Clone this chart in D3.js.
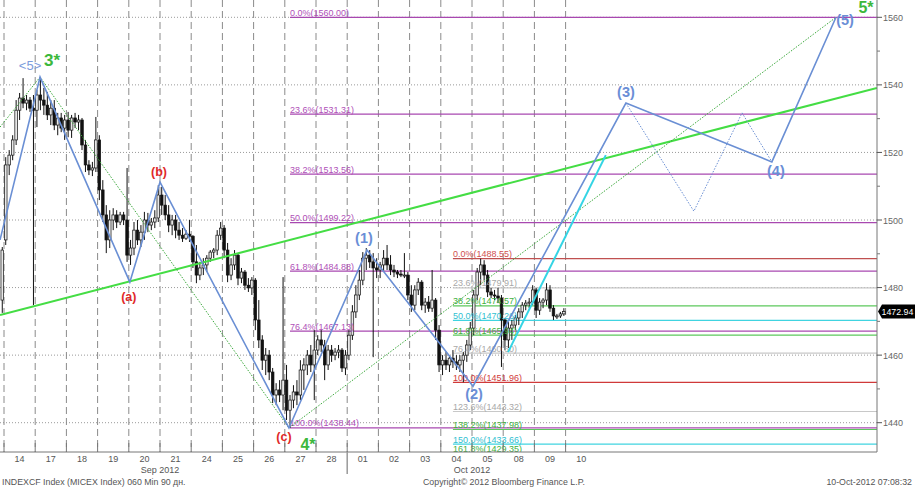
<!DOCTYPE html>
<html><head><meta charset="utf-8">
<script src="https://cdn.jsdelivr.net/npm/d3@7"></script>
<style>body{margin:0;background:#fff;} svg{display:block;font-family:"Liberation Sans",Arial,sans-serif;}</style>
</head><body><svg id="c" width="915" height="487"></svg>
<script>
// ---------- DATA ----------
const firstBar = -1; // 60-min bars, 9 per trading day, index 0 = first bar of 14 Sep
const barOpen = [1476.3,
 1494.1,1516.3,1519.2,1523.7,1532.5,1536.1,1534.6,1535.5,1533.1,
 1532.5,1537.0,1535.5,1534.0,1531.1,1533.1,1528.1,1530.2,1527.2,
 1529.6,1526.6,1530.2,1529.0,1529.6,1522.2,1516.3,1514.8,1515.4,
 1523.7,1508.9,1501.5,1494.1,1500.0,1501.5,1499.4,1501.5,1500.0,
 1489.6,1491.7,1497.0,1494.1,1496.4,1500.0,1498.5,1499.4,1500.6,
 1507.4,1504.4,1501.5,1498.5,1500.0,1497.0,1495.5,1494.6,1495.8,
 1495.2,1487.6,1483.7,1485.8,1486.7,1488.7,1490.5,1491.1,1495.5,
 1497.6,1491.1,1483.7,1486.7,1489.6,1482.8,1484.6,1480.7,1479.9,
 1482.2,1470.4,1464.5,1458.5,1460.0,1455.0,1448.2,1449.7,1448.2,
 1452.6,1443.7,1446.7,1449.1,1448.2,1455.6,1457.1,1460.0,1457.1,
 1461.5,1464.5,1463.0,1457.1,1461.5,1460.0,1460.9,1461.5,1456.2,
 1460.0,1465.9,1472.8,1477.8,1482.2,1488.7,1489.6,1487.6,1485.8,
 1485.2,1486.7,1488.7,1486.7,1485.2,1484.6,1484.0,1483.7,1483.7,
 1477.8,1474.8,1479.3,1481.6,1474.8,1475.7,1473.9,1476.3,1467.4,
 1457.1,1458.5,1457.1,1459.1,1458.0,1457.1,1458.5,1460.0,1463.0,
 1468.0,1477.8,1484.6,1486.7,1483.7,1478.7,1477.8,1477.5,1476.9,
 1470.4,1464.5,1468.0,1468.9,1471.0,1472.8,1474.8,1475.4,1475.7,
 1479.3,1473.3,1475.7,1476.3,1479.3,1473.9,1471.6,1471.6,1472.2];
const barHigh = [1492.0,
 1518.6,1520.7,1525.1,1535.5,1537.6,1542.0,1537.0,1536.4,1537.0,
 1538.5,1542.3,1539.1,1537.9,1535.5,1535.5,1531.7,1531.7,1531.1,
 1532.0,1531.1,1531.7,1531.1,1530.2,1523.7,1517.7,1517.2,1530.5,
 1525.1,1511.8,1504.4,1502.9,1503.5,1502.9,1502.4,1502.4,1515.4,
 1494.1,1499.4,1500.0,1498.5,1502.4,1502.1,1500.6,1502.9,1510.3,
 1509.8,1507.4,1504.4,1501.5,1501.5,1499.4,1497.6,1497.0,1500.0,
 1495.5,1492.6,1487.6,1488.7,1489.6,1491.1,1491.7,1497.0,1499.4,
 1498.5,1493.2,1488.7,1491.1,1490.2,1485.8,1485.2,1482.8,1483.1,
 1482.8,1476.3,1465.9,1462.1,1461.5,1456.2,1451.7,1452.6,1483.1,
 1457.1,1448.2,1451.1,1452.6,1458.5,1459.1,1461.5,1463.0,1467.4,
 1465.9,1467.4,1464.5,1463.0,1463.0,1462.1,1463.0,1462.1,1461.5,
 1467.4,1474.8,1480.7,1485.2,1490.5,1491.7,1491.1,1490.2,1488.7,
 1487.6,1491.1,1492.6,1489.6,1486.7,1485.2,1485.2,1490.2,1484.6,
 1480.7,1480.7,1482.8,1482.2,1476.9,1477.5,1485.2,1476.9,1468.9,
 1460.0,1460.9,1460.0,1461.5,1460.0,1460.0,1460.9,1464.5,1469.8,
 1479.3,1485.8,1488.55,1488.1,1485.2,1479.9,1479.3,1479.9,1477.8,
 1471.0,1469.8,1470.4,1471.9,1473.9,1475.7,1476.3,1476.9,1480.7,
 1479.9,1476.9,1476.9,1481.3,1480.7,1474.8,1472.2,1472.8,1473.9];
const barLow = [1472.5,
 1492.6,1513.3,1517.7,1522.2,1529.6,1533.1,1532.5,1532.0,1474.8,
 1527.5,1532.5,1531.1,1529.6,1528.1,1526.6,1525.1,1526.0,1523.7,
 1524.5,1524.3,1527.2,1526.6,1520.7,1514.2,1513.3,1513.0,1514.2,
 1505.9,1499.4,1490.2,1491.7,1497.0,1497.6,1498.5,1498.5,1487.6,
 1486.7,1489.6,1492.6,1492.0,1494.1,1496.4,1497.0,1497.6,1499.4,
 1501.5,1500.0,1496.4,1495.5,1494.6,1494.1,1493.5,1494.1,1493.5,
 1485.8,1481.3,1482.2,1483.7,1484.6,1487.6,1488.7,1489.6,1494.1,
 1488.7,1481.6,1482.2,1485.2,1480.7,1481.3,1479.3,1478.7,1477.8,
 1467.4,1462.1,1455.6,1454.1,1452.6,1445.8,1445.2,1446.1,1443.7,
 1440.8,1438.44,1444.3,1445.2,1446.7,1449.7,1454.1,1455.0,1446.7,
 1460.0,1460.9,1452.6,1455.6,1458.0,1458.5,1459.1,1455.0,1454.1,
 1458.5,1464.5,1471.0,1476.3,1480.7,1485.2,1485.8,1459.4,1482.8,
 1482.8,1484.6,1485.2,1483.7,1483.1,1482.8,1483.1,1482.8,1476.3,
 1472.8,1473.3,1477.8,1473.3,1472.5,1472.8,1472.8,1464.5,1455.0,
 1454.1,1455.6,1455.0,1456.2,1455.6,1455.0,1451.96,1458.0,1461.5,
 1465.9,1476.3,1480.7,1482.2,1477.2,1476.9,1476.3,1475.4,1456.5,
 1461.5,1462.1,1464.5,1467.4,1468.9,1471.0,1473.3,1473.9,1474.8,
 1471.0,1471.9,1473.9,1474.8,1472.8,1470.4,1470.7,1471.0,1471.6];
const barClose = [1491.1,
 1516.3,1519.2,1523.7,1532.5,1536.1,1534.6,1535.5,1533.1,1532.5,
 1537.0,1535.5,1534.0,1531.1,1533.1,1528.1,1530.2,1527.2,1529.6,
 1526.6,1530.2,1529.0,1529.6,1522.2,1516.3,1514.8,1515.4,1523.7,
 1508.9,1501.5,1494.1,1500.0,1501.5,1499.4,1501.5,1500.0,1489.6,
 1491.7,1497.0,1494.1,1496.4,1500.0,1498.5,1499.4,1500.6,1507.4,
 1504.4,1501.5,1498.5,1500.0,1497.0,1495.5,1494.6,1495.8,1495.2,
 1487.6,1483.7,1485.8,1486.7,1488.7,1490.5,1491.1,1495.5,1497.6,
 1491.1,1483.7,1486.7,1489.6,1482.8,1484.6,1480.7,1479.9,1482.2,
 1470.4,1464.5,1458.5,1460.0,1455.0,1448.2,1449.7,1448.2,1452.6,
 1443.7,1446.7,1449.1,1448.2,1455.6,1457.1,1460.0,1457.1,1461.5,
 1464.5,1463.0,1457.1,1461.5,1460.0,1460.9,1461.5,1456.2,1460.0,
 1465.9,1472.8,1477.8,1482.2,1488.7,1489.6,1487.6,1485.8,1485.2,
 1486.7,1488.7,1486.7,1485.2,1484.6,1484.0,1483.7,1483.7,1477.8,
 1474.8,1479.3,1481.6,1474.8,1475.7,1473.9,1476.3,1467.4,1457.1,
 1458.5,1457.1,1459.1,1458.0,1457.1,1458.5,1460.0,1463.0,1468.0,
 1477.8,1484.6,1486.7,1483.7,1478.7,1477.8,1477.5,1476.9,1470.4,
 1464.5,1468.0,1468.9,1471.0,1472.8,1474.8,1475.4,1475.7,1479.3,
 1473.3,1475.7,1476.3,1479.3,1473.9,1471.6,1471.6,1472.2,1472.94];
const lastPrice = 1472.94;

const dayLabels = ["14","17","18","19","20","21","24","25","26","27","28","01","02","03","04","05","08","09","10"];
const barsPerDay = 9;
const monthLabels = ["Sep 2012","Oct 2012"];
const monthCenterDay = [5, 15];   // day-boundary index of label centre
const monthBreakDay = 11;         // 01 Oct
const priceTicks = [1440,1460,1480,1500,1520,1540,1560];
const priceMinorTicks = [1450,1470,1490,1510,1530,1550];

// Fibonacci retracement sets
const fib1Levels = [0.0,23.6,38.2,50.0,61.8,76.4,100.0];
const fib1Values = [1560.00,1531.31,1513.56,1499.22,1484.88,1467.13,1438.44];
const fib1Start = 82.0;
const fib2Levels = [0.0,23.6,38.2,50.0,61.8,76.4,100.0,123.6,138.2,150.0,161.8];
const fib2Values = [1488.55,1479.91,1474.57,1470.26,1465.94,1460.60,1451.96,1443.32,1437.98,1433.66,1429.35];
const fib2Start = 129.0;

// Elliott wave counts (bar index, price)
const waveIdx = [-1.65, 9.9, 35.8, 44.5, 81.7, 104.2, 134.8, 178.9, 221.0, 239.5];
const waveVal = [1494.1, 1542.3, 1481.6, 1511.2, 1438.44, 1491.1, 1450.8, 1534.6, 1517.2, 1560.0];
const waveLabels = ["", "<5>", "(a)", "(b)", "(c)", "(1)", "(2)", "(3)", "(4)", "(5)"];
const altWaveIdx = [178.9, 198.5, 212.4, 221.0];
const altWaveVal = [1534.6, 1502.6, 1531.7, 1517.2];
const cyanIdx = [144.9, 173.1];
const cyanVal = [1460.9, 1519.2];
const trendIdx = [-1.65, 251.3];
const trendVal = [1471.9, 1539.1];
const channelIdx = [-1.65, 9.9, 81.7, 239.5];
const channelVal = [1527.5, 1542.3, 1438.44, 1560.0];
const degreeLabels = ["3*", "4*", "5*"];
const degreeAt = [1, 4, 9]; // wave point index

// ---------- LAYOUT / STYLE ----------
const W = 915, H = 487, plotR = 877, plotB = 452;
const svg = d3.select("#c");
const x = d3.scaleLinear().domain([-0.5, 170.5]).range([4, 596.8]);
const y = d3.scaleLinear().domain([1560, 1440]).range([17.3, 422.7]);
const dayX = k => x(k * barsPerDay - 0.5);

svg.append("defs").append("clipPath").attr("id","plot")
  .append("rect").attr("x",0).attr("y",0).attr("width",plotR).attr("height",plotB);
const g = svg.append("g").attr("clip-path","url(#plot)");

// grid
g.selectAll(".hg").data(priceTicks).enter().append("line")
  .attr("x1",0).attr("x2",plotR).attr("y1",d=>y(d)).attr("y2",d=>y(d))
  .attr("stroke","#9a9a9a").attr("stroke-width",1).attr("stroke-dasharray","1,2");
g.selectAll(".vg").data(d3.range(0, dayLabels.length)).enter().append("line")
  .attr("x1",d=>dayX(d)).attr("x2",d=>dayX(d)).attr("y1",0).attr("y2",plotB)
  .attr("stroke","#8a8a8a").attr("stroke-width",1).attr("stroke-dasharray","7,4");

// fib lines
const fib2Colors = ["#c05050","#c8c8c8","#5cc85c","#40d4e0","#5cc85c","#c8c8c8","#d03a3a","#c8c8c8","#5cc85c","#40d4e0","#5cc85c"];
const fib2Text = ["#d05050","#a8a8a8","#40b040","#30c0d0","#40b040","#a8a8a8","#d03a3a","#a8a8a8","#40b040","#30c0d0","#40b040"];
const fmt = (l,v) => `${l.toFixed(1)}%(${v.toFixed(2)})`;
fib1Values.forEach((v,i) => {
  g.append("line").attr("x1",x(fib1Start)).attr("x2",plotR).attr("y1",y(v)).attr("y2",y(v))
    .attr("stroke","#a848b0").attr("stroke-width",1.2);
});
fib2Values.forEach((v,i) => {
  g.append("line").attr("x1",x(fib2Start)).attr("x2",plotR).attr("y1",y(v)).attr("y2",y(v))
    .attr("stroke",fib2Colors[i]).attr("stroke-width",1.2);
});

// candles
const bars = barOpen.map((o,k)=>({i:firstBar+k,o,h:barHigh[k],l:barLow[k],c:barClose[k]}));
const cg = g.append("g");
cg.selectAll(".w").data(bars).enter().append("line")
  .attr("x1",d=>x(d.i)).attr("x2",d=>x(d.i)).attr("y1",d=>y(d.h)).attr("y2",d=>y(d.l))
  .attr("stroke","#111").attr("stroke-width",1);
cg.selectAll(".b").data(bars).enter().append("rect")
  .attr("x",d=>x(d.i)-1.3).attr("width",2.6)
  .attr("y",d=>y(Math.max(d.o,d.c))).attr("height",d=>Math.max(1,Math.abs(y(d.o)-y(d.c))))
  .attr("fill",d=>d.c>=d.o?"#e8e8e8":"#111").attr("stroke","#111").attr("stroke-width",0.7);

// fib labels (drawn over candles)
fib1Values.forEach((v,i) => {
  g.append("text").attr("x",x(fib1Start)).attr("y",y(v)-1.5).text(fmt(fib1Levels[i],v))
    .attr("fill","#b050b8").attr("font-size",9);
});
fib2Values.forEach((v,i) => {
  g.append("text").attr("x",x(fib2Start)).attr("y",Math.min(y(v)-1.5, plotB-0.5)).text(fmt(fib2Levels[i],v))
    .attr("fill",fib2Text[i]).attr("font-size",9);
});

// trend line & channel
const line = d3.line().x(d=>x(d[0])).y(d=>y(d[1]));
g.append("path").datum(trendIdx.map((d,i)=>[d,trendVal[i]])).attr("d",line)
  .attr("stroke","#44dd44").attr("stroke-width",2).attr("fill","none");
g.append("path").datum(channelIdx.map((d,i)=>[d,channelVal[i]])).attr("d",line)
  .attr("stroke","#3aa83a").attr("stroke-width",1).attr("stroke-dasharray","1.5,1.5").attr("fill","none");
// waves
g.append("path").datum(altWaveIdx.map((d,i)=>[d,altWaveVal[i]])).attr("d",line)
  .attr("stroke","#6a8fd4").attr("stroke-width",1).attr("stroke-dasharray","1.5,1.5").attr("fill","none");
g.append("path").datum(cyanIdx.map((d,i)=>[d,cyanVal[i]])).attr("d",line)
  .attr("stroke","#34d4e4").attr("stroke-width",2).attr("fill","none");
g.append("path").datum(waveIdx.map((d,i)=>[d,waveVal[i]])).attr("d",line)
  .attr("stroke","#6a8fd4").attr("stroke-width",1.6).attr("fill","none");

// wave labels
const lblOff = [null,[-10,-7],[-1,19],[-1,-6],[-5,13],[-3,-7],[1,13],[0,-6],[4,14],[9,8]];
waveLabels.forEach((t,i)=>{
  if(!t) return;
  const red = t.startsWith("(") && /[abc]/.test(t);
  const txt = svg.append("text").attr("x",x(waveIdx[i])+lblOff[i][0]).attr("y",y(waveVal[i])+lblOff[i][1])
    .attr("text-anchor","middle").text(t);
  if (t==="<5>") txt.attr("fill","#7c9cdc").attr("font-size",13);
  else if (red) txt.attr("fill","#e02828").attr("font-size",12.5).attr("font-weight","bold");
  else txt.attr("fill","#6a8ed6").attr("font-size",14.5).attr("font-weight","bold");
});
const degOff = [[12,-11],[19,22],[30,-4]];
const degSize = [17,16,16];
degreeLabels.forEach((t,i)=>{
  const k = degreeAt[i];
  svg.append("text").attr("x",x(waveIdx[k])+degOff[i][0]).attr("y",y(waveVal[k])+degOff[i][1])
    .attr("text-anchor","middle").attr("fill","#3cb83c").attr("font-size",degSize[i]).attr("font-weight","bold").text(t);
});

// axes frame
svg.append("line").attr("x1",0).attr("x2",plotR).attr("y1",plotB).attr("y2",plotB).attr("stroke","#777");
svg.append("line").attr("x1",plotR).attr("x2",plotR).attr("y1",0).attr("y2",plotB).attr("stroke","#777");

// right axis
priceTicks.forEach(v=>{
  svg.append("line").attr("x1",plotR).attr("x2",plotR+5).attr("y1",y(v)).attr("y2",y(v)).attr("stroke","#555");
  svg.append("text").attr("x",plotR+6).attr("y",y(v)+3.5).attr("font-size",9).attr("fill","#666").text(v);
});
priceMinorTicks.forEach(v=>{
  svg.append("line").attr("x1",plotR).attr("x2",plotR+3).attr("y1",y(v)).attr("y2",y(v)).attr("stroke","#777");
});
// last price tag
const ty = y(lastPrice);
svg.append("path").attr("d",`M${plotR+1},${ty} L${plotR+5},${ty-7} L${W},${ty-7} L${W},${ty+7} L${plotR+5},${ty+7} Z`).attr("fill","#000");
svg.append("text").attr("x",plotR+4.5).attr("y",ty+3.3).attr("font-size",8.8).attr("fill","#fff").text(lastPrice.toFixed(2));

// bottom axis
dayLabels.forEach((t,k)=>{
  svg.append("line").attr("x1",dayX(k)).attr("x2",dayX(k)).attr("y1",plotB-9).attr("y2",plotB).attr("stroke","#777");
  svg.append("text").attr("x",(dayX(k)+dayX(k+1))/2).attr("y",462).attr("text-anchor","middle")
    .attr("font-size",9).attr("fill","#555").text(t);
});
svg.append("line").attr("x1",dayX(monthBreakDay)).attr("x2",dayX(monthBreakDay)).attr("y1",plotB).attr("y2",474).attr("stroke","#999").attr("stroke-width",1.5);
monthLabels.forEach((t,i)=>{
  svg.append("text").attr("x",dayX(monthCenterDay[i])).attr("y",473).attr("text-anchor","middle")
    .attr("font-size",9).attr("fill","#555").text(t);
});
// footer
svg.append("text").attr("x",2).attr("y",485).attr("font-size",8.8).attr("fill","#555").text("INDEXCF Index (MICEX Index) 060 Min 90 дн.");
svg.append("text").attr("x",423).attr("y",485).attr("font-size",8.8).attr("fill","#555").text("Copyright© 2012 Bloomberg Finance L.P.");
svg.append("text").attr("x",912).attr("y",485).attr("text-anchor","end").attr("font-size",8.8).attr("fill","#555").text("10-Oct-2012 07:08:32");
</script></body></html>
